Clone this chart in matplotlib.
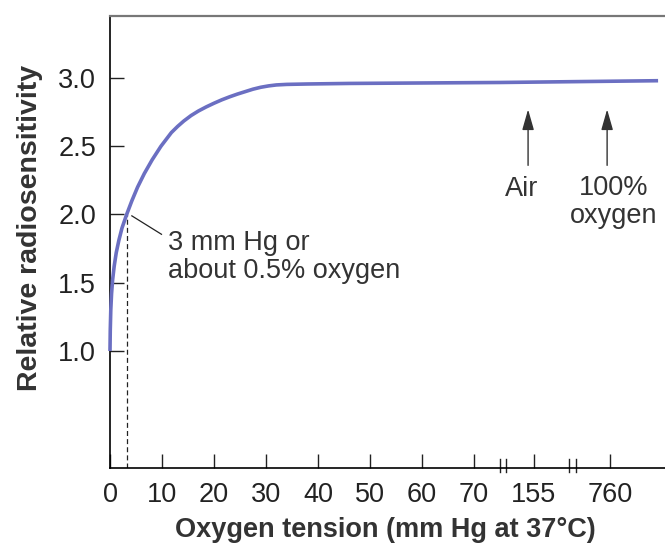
import matplotlib
matplotlib.use("Agg")
import matplotlib.pyplot as plt
import matplotlib.transforms as mtransforms

plt.rcParams['font.family'] = ['Liberation Sans', 'DejaVu Sans']

# curve; x in axis units (0-70 = mm Hg, broken scale after 75)
tension = [0, 0.05, 0.15, 0.3, 0.5, 0.8, 1.2, 1.7, 2.3, 3.2, 4.2, 5.3, 6.6, 8.1,
           9.8, 11.8, 13, 14.2, 15.6, 17, 18.5, 20, 21.5, 23, 24.5, 26, 27.5, 29,
           30.5, 32, 34, 38, 46, 75, 105.4]
sensitivity = [1.0, 1.15, 1.3, 1.42, 1.52, 1.62, 1.72, 1.81, 1.9, 2.0, 2.1, 2.2,
               2.3, 2.4, 2.5, 2.6, 2.645, 2.685, 2.725, 2.758, 2.788, 2.815, 2.84,
               2.862, 2.882, 2.9, 2.918, 2.932, 2.942, 2.949, 2.953, 2.956, 2.96,
               2.967, 2.98]

x_tick_pos = [0, 10, 20, 30, 40, 50, 60, 70, 81.5, 96.2]
x_tick_labels = ["0", "10", "20", "30", "40", "50", "60", "70", "155", "760"]
y_ticks = [1.0, 1.5, 2.0, 2.5, 3.0]

W, H = 665, 547
fig = plt.figure(figsize=(W / 100, H / 100), dpi=100)
ax = fig.add_axes([110 / W, 79 / H, 555 / W, 452 / H])

ax.plot(tension, sensitivity, color='#6b6fc2', lw=2.6, solid_capstyle='butt',
        solid_joinstyle='round', clip_on=False, zorder=3)

ax.set_xlim(0, 555 / 5.2)
ax.set_ylim(0.143, 3.454)

ax.spines['right'].set_visible(False)
ax.spines['top'].set_color('#777777')
ax.spines['top'].set_linewidth(1.6)
for s in ['left', 'bottom']:
    ax.spines[s].set_linewidth(1.2)

ax.set_xticks(x_tick_pos)
ax.set_xticklabels(x_tick_labels)
ax.set_yticks(y_ticks)
ax.set_yticklabels(["%.1f" % v for v in y_ticks])
ax.tick_params(direction='in', length=10, width=1, labelsize=19.5, colors='#222222')
ax.tick_params(axis='x', pad=10)
ax.tick_params(axis='y', pad=10)

# 3 mm Hg marker
ax.plot([3.2, 3.2], [0.143, 2.0], color='#222222', lw=0.9, dashes=(4, 2.5))
ax.plot([4.2, 9.9], [1.99, 1.855], color='#222222', lw=0.9)
ax.text(11.2, 1.689, "3 mm Hg or\nabout 0.5% oxygen", fontsize=19.5, color='#333333',
        va='center', ha='left', linespacing=1.1)

# arrows for air and pure oxygen
arrow = dict(arrowstyle='-|>,head_length=0.7,head_width=0.2', color='#333333', lw=1,
             mutation_scale=18, shrinkA=0, shrinkB=0)
ax.annotate("", xy=(80.4, 2.77), xytext=(80.4, 2.36), arrowprops=arrow)
ax.annotate("", xy=(95.6, 2.77), xytext=(95.6, 2.36), arrowprops=arrow)
ax.text(79.2, 2.187, "Air", fontsize=19.5, color='#333333', ha='center', va='center')
ax.text(96.9, 2.088, "100%\noxygen", fontsize=19.5, color='#333333', ha='center',
        va='center', linespacing=1.1)

# axis break marks
trans = mtransforms.blended_transform_factory(ax.transData, ax.transAxes)
for xb in [75.0, 76.2, 88.3, 89.6]:
    ax.plot([xb, xb], [-4 / 452, 9 / 452], transform=trans, color='#222222',
            lw=1, clip_on=False)

fig.text(385 / W, 1 - 530 / H, "Oxygen tension (mm Hg at 37°C)", fontsize=19.5,
         fontweight='bold', color='#333333', ha='center', va='center')
fig.text(30 / W, 1 - 228 / H, "Relative radiosensitivity", fontsize=20.5,
         fontweight='bold', color='#333333', ha='center', va='center', rotation=90)

fig.savefig("out.png", dpi=100)
